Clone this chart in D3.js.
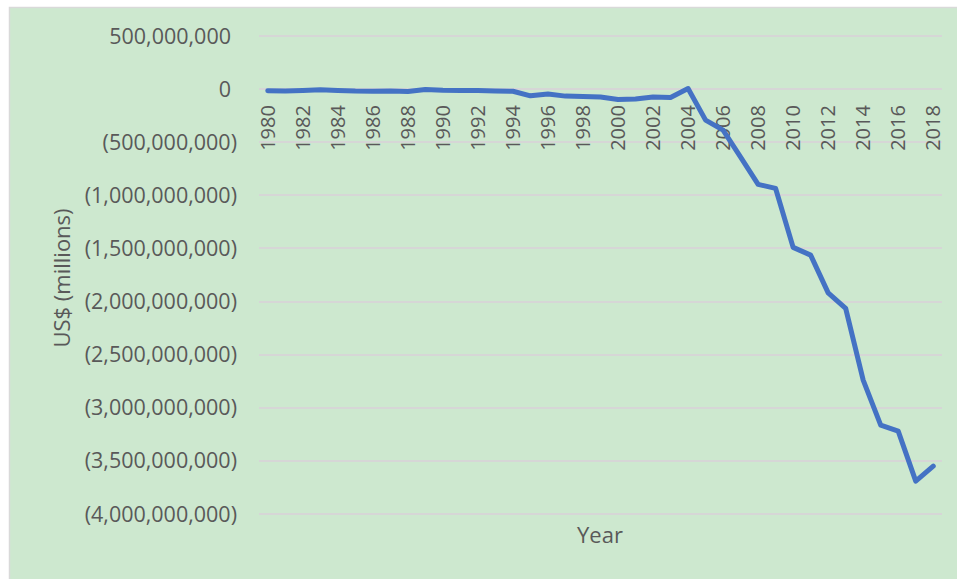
<!DOCTYPE html>
<html>
<head>
<meta charset="utf-8">
<script src="https://cdn.jsdelivr.net/npm/d3@7"></script>
<style>
  html, body { margin: 0; padding: 0; background: #fff; }
  svg { display: block; }
</style>
</head>
<body>
<div id="chart"></div>
<script>
// data (US$)
const years = d3.range(1980, 2019);
const balance = [
  -15e6, -18e6, -12e6, -5e6, -12e6, -18e6, -20e6, -18e6, -22e6, -3e6,
  -10e6, -12e6, -14e6, -17e6, -20e6, -63e6, -47e6, -66e6, -69e6, -75e6,
  -97e6, -94e6, -75e6, -78e6, 5e6, -292e6, -386e6, -640e6, -897e6, -935e6,
  -1490e6, -1563e6, -1918e6, -2065e6, -2740e6, -3164e6, -3220e6, -3690e6, -3550e6
];
const yTicks = d3.range(-4e9, 5e8 + 1, 5e8);
const xTickYears = years.filter(y => y % 2 === 0);

const W = 957, H = 579;
const plot = { left: 259, right: 942, top: 36, bottom: 514 };

const svg = d3.select("#chart").append("svg")
  .attr("width", W).attr("height", H)
  .style("font-family", "'Open Sans', sans-serif");

// chart area background + border
svg.append("rect").attr("x", 9.5).attr("y", 7.5)
  .attr("width", W).attr("height", H)
  .attr("fill", "#cde8cf").attr("stroke", "#d9d9d9").attr("stroke-width", 1.5);

const x = d3.scalePoint().domain(years).range([plot.left, plot.right]).padding(0.5);
const y = d3.scaleLinear().domain([-4e9, 5e8]).range([plot.bottom, plot.top]);

const fmt = d3.format(",.0f");
const label = v => v < 0 ? "(" + fmt(-v) + ")" : fmt(v);

// gridlines
svg.append("g").selectAll("line").data(yTicks).join("line")
  .attr("x1", plot.left).attr("x2", plot.right)
  .attr("y1", d => Math.round(y(d))).attr("y2", d => Math.round(y(d)))
  .attr("stroke", "#d6d6d6").attr("stroke-width", 2);

// y tick labels (positive ones leave room for the ")" like excel's format)
svg.append("g").selectAll("text").data(yTicks).join("text")
  .attr("x", d => d < 0 ? 237 : 231)
  .attr("y", d => y(d))
  .attr("dy", "0.35em")
  .attr("text-anchor", "end")
  .attr("font-size", 21.5)
  .attr("fill", "#595959")
  .text(label);

// x tick labels, rotated, hanging under the zero line
svg.append("g").selectAll("text").data(xTickYears).join("text")
  .attr("transform", d => `translate(${x(d)},${y(0) + 16}) rotate(-90)`)
  .attr("dy", "0.35em")
  .attr("text-anchor", "end")
  .attr("font-size", 20)
  .attr("fill", "#595959")
  .text(d => d);

// the line
const line = d3.line().x((d, i) => x(years[i])).y(d => y(d));
svg.append("path").datum(balance)
  .attr("d", line)
  .attr("fill", "none")
  .attr("stroke", "#4472c4")
  .attr("stroke-width", 5)
  .attr("stroke-linejoin", "round")
  .attr("stroke-linecap", "round");

// axis titles
svg.append("text")
  .attr("x", 600).attr("y", 543)
  .attr("text-anchor", "middle")
  .attr("font-size", 22)
  .attr("fill", "#595959")
  .text("Year");

svg.append("text")
  .attr("transform", "translate(62,278) rotate(-90)")
  .attr("dy", "0.35em")
  .attr("text-anchor", "middle")
  .attr("font-size", 22)
  .attr("fill", "#595959")
  .text("US$ (millions)");
</script>
</body>
</html>
